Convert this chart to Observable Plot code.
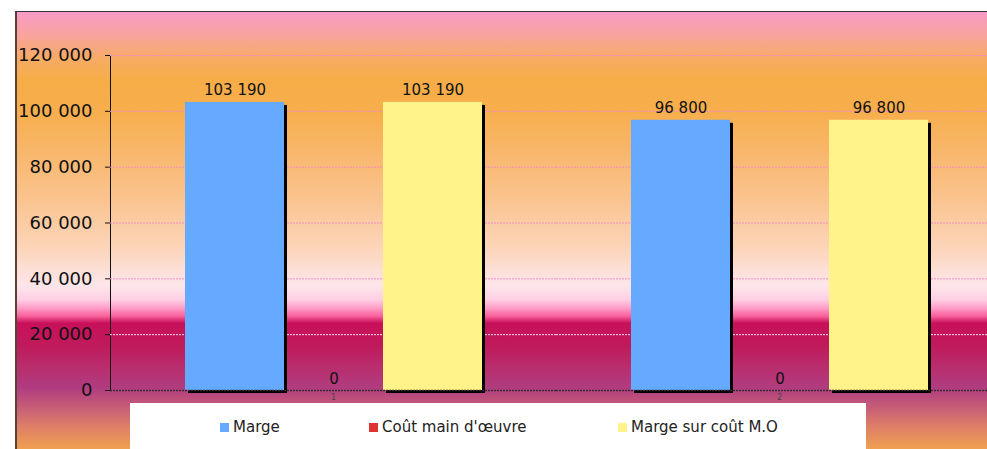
<!DOCTYPE html>
<html>
<head>
<meta charset="utf-8">
<script src="https://cdn.jsdelivr.net/npm/d3@7"></script>
<script src="https://cdn.jsdelivr.net/npm/@observablehq/plot@0.6"></script>
<style>
  html, body { margin: 0; padding: 0; background: #fff; }
  #wrap { position: relative; width: 987px; height: 449px; overflow: hidden; background: #fff; font-family: "DejaVu Sans", Verdana, sans-serif; }
  #bg { position: absolute; left: 15px; top: 11px; right: 0; bottom: 0;
        border-left: 2px solid #5a4038; border-top: 1px solid #333;
        background: linear-gradient(to bottom,
          #f89ac8 0%, #f8a3a0 5%, #f7ab62 11%, #f6ad48 15.5%, #f7ae4c 22.6%,
          #f8b66a 31.7%, #fac490 43.2%, #fcd6bc 54.6%, #fde6ea 62.6%, #ffd0e4 65.8%,
          #ff9cc6 67.8%, #f8609c 69.6%, #c8105a 71.2%, #c01a5c 76.3%, #b83070 82%,
          #b03c80 86%, #c45a78 90%, #dc7c68 94.5%, #f0a050 100%); }
  #chart { position: absolute; left: 0; top: 0; }
  #legend { position: absolute; left: 130px; top: 403px; width: 736px; height: 60px; background: #fff; }
  .item { position: absolute; top: 14px; font-size: 15px; color: #222; white-space: nowrap; line-height: 20px; }
  .sw { display: inline-block; width: 9px; height: 9px; margin-right: 4px; vertical-align: 0px; }
</style>
</head>
<body>
<div id="wrap">
  <div id="bg"></div>
  <div id="chart"></div>
  <div id="legend"></div>
</div>
<script>
const categories = ["1", "2"];
const series = ["Marge", "Coût main d'œuvre", "Marge sur coût M.O"];
const marge = [103190, 96800];
const coutMainOeuvre = [0, 0];
const margeSurCout = [103190, 96800];
const colors = ["#66aaff", "#dd3333", "#fff38a"];
const yTicks = [0, 20000, 40000, 60000, 80000, 100000, 120000];

const seriesValues = [marge, coutMainOeuvre, margeSurCout];
const data = categories.flatMap((c, i) =>
  series.map((s, j) => ({ cat: c, series: s, value: seriesValues[j][i] })));

const fmt = v => d3.format(",")(v).replace(/,/g, " ");

const chart = Plot.plot({
  width: 987,
  height: 449,
  marginLeft: 110,
  marginRight: -15,
  marginTop: 55,
  marginBottom: 59,
  style: { background: "transparent", fontFamily: "DejaVu Sans, Verdana, sans-serif", fontSize: "18px", color: "#111" },
  fx: { domain: categories, padding: 0, axis: null },
  x: { domain: series, paddingInner: 0, paddingOuter: 0.7525, axis: null },
  y: { domain: [0, 120000], axis: "left", ticks: yTicks, tickFormat: fmt, tickSize: 5, tickPadding: 13, line: true, label: null },
  color: { domain: series, range: colors },
  marks: [
    Plot.ruleY(yTicks.filter(d => d > 0 && d !== 20000), { stroke: "#f58cc4", strokeDasharray: "2,1", strokeWidth: 1 }),
    Plot.ruleY([20000], { stroke: "#f8dcec", strokeDasharray: "2,1", strokeWidth: 1 }),
    Plot.rectY(data, { fx: "cat", x: "series", y: "value", fill: "#000", dx: 3, dy: 3 }),
    Plot.barY(data, { fx: "cat", x: "series", y: "value", fill: "series" }),
    Plot.ruleY([0], { stroke: "#3a2a30", strokeDasharray: "2,1", strokeWidth: 1.5 }),
    Plot.text(data, { fx: "cat", x: "series", y: "value", text: d => fmt(d.value), lineAnchor: "bottom", dy: -7, fontSize: 15, fill: "#111" }),
    Plot.text(categories, { fx: d => d, text: d => d, frameAnchor: "bottom", dy: 9, fontSize: 8, fill: "#444" })
  ]
});
document.getElementById("chart").appendChild(chart);

const legend = document.getElementById("legend");
const legendLeft = [90, 239, 488];
series.forEach((s, i) => {
  const el = document.createElement("div");
  el.className = "item";
  el.style.left = legendLeft[i] + "px";
  el.innerHTML = `<span class="sw" style="background:${colors[i]}"></span>${s}`;
  legend.appendChild(el);
});
</script>
</body>
</html>
